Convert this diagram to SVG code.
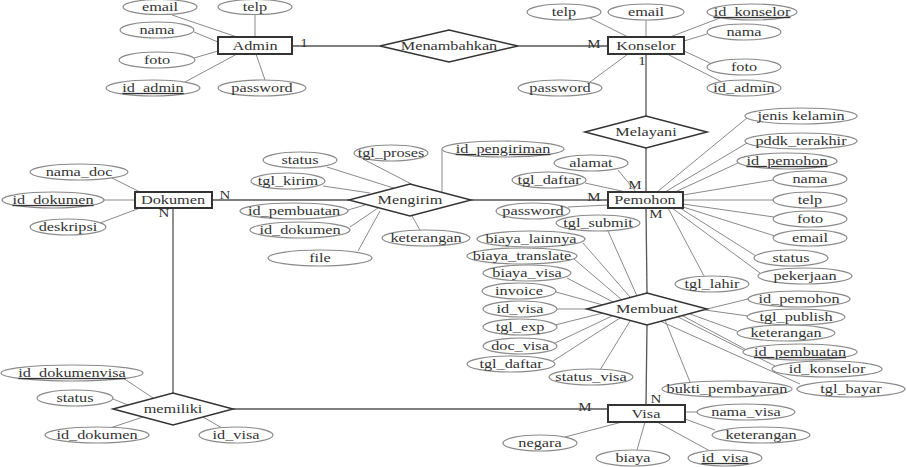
<svg xmlns="http://www.w3.org/2000/svg" width="907" height="467" viewBox="0 0 907 467">
<style>
.e{fill:#fff;stroke:#8a8a8a;stroke-width:1.2}
.t{font-family:"Liberation Serif","Times New Roman",serif;font-size:13px;fill:#333;text-anchor:middle}
.c{font-size:12px}
.k{text-decoration:underline}
.a{stroke:#8a8a8a;stroke-width:1;fill:none}
.r{stroke:#555;stroke-width:1.3;fill:none}
.ent{fill:#fff;stroke:#333;stroke-width:2}
.rel{fill:#fff;stroke:#333;stroke-width:1.5}
</style>
<rect width="907" height="467" fill="#fff"/>
<g id="connectors">
<line class="r" x1="292" y1="46" x2="380" y2="46"/>
<line class="r" x1="518" y1="46" x2="608" y2="46"/>
<line class="r" x1="646" y1="54" x2="646" y2="116"/>
<line class="r" x1="646" y1="148" x2="646" y2="192"/>
<line class="r" x1="646" y1="208" x2="647" y2="293"/>
<line class="r" x1="647" y1="325" x2="646" y2="405"/>
<line class="r" x1="471" y1="200" x2="608" y2="200"/>
<line class="r" x1="212" y1="200" x2="349" y2="200"/>
<line class="r" x1="173" y1="208" x2="173" y2="393"/>
<line class="r" x1="233" y1="409" x2="608" y2="409"/>
<g id="attr-lines">
<line class="a" x1="172" y1="15" x2="237" y2="37"/>
<line class="a" x1="255" y1="15" x2="255" y2="37"/>
<line class="a" x1="194" y1="32" x2="218" y2="42"/>
<line class="a" x1="194" y1="58" x2="218" y2="51"/>
<line class="a" x1="185" y1="82" x2="237" y2="54"/>
<line class="a" x1="265" y1="80" x2="256" y2="54"/>
<line class="a" x1="590" y1="18" x2="628" y2="37"/>
<line class="a" x1="646" y1="20" x2="646" y2="37"/>
<line class="a" x1="720" y1="18" x2="670" y2="37"/>
<line class="a" x1="707" y1="34" x2="684" y2="41"/>
<line class="a" x1="710" y1="63" x2="684" y2="51"/>
<line class="a" x1="722" y1="82" x2="667" y2="54"/>
<line class="a" x1="590" y1="82" x2="628" y2="54"/>
<line class="a" x1="747" y1="118" x2="657" y2="192"/>
<line class="a" x1="747" y1="143" x2="665" y2="192"/>
<line class="a" x1="738" y1="163" x2="675" y2="192"/>
<line class="a" x1="773" y1="180" x2="683" y2="195"/>
<line class="a" x1="773" y1="200" x2="683" y2="200"/>
<line class="a" x1="774" y1="217" x2="683" y2="204"/>
<line class="a" x1="775" y1="236" x2="683" y2="207"/>
<line class="a" x1="756" y1="256" x2="680" y2="208"/>
<line class="a" x1="760" y1="273" x2="672" y2="208"/>
<line class="a" x1="704" y1="276" x2="668" y2="208"/>
<line class="a" x1="618" y1="170" x2="636" y2="192"/>
<line class="a" x1="585" y1="183" x2="626" y2="192"/>
<line class="a" x1="568" y1="207" x2="608" y2="205"/>
<line class="a" x1="327" y1="167" x2="403" y2="191"/>
<line class="a" x1="363" y1="159" x2="423" y2="190"/>
<line class="a" x1="323" y1="186" x2="370" y2="193"/>
<line class="a" x1="348" y1="210" x2="365" y2="205"/>
<line class="a" x1="350" y1="227" x2="378" y2="208"/>
<line class="a" x1="358" y1="251" x2="380" y2="211"/>
<line class="a" x1="420" y1="230" x2="412" y2="216"/>
<line class="a" x1="442" y1="149" x2="442" y2="192"/>
<line class="a" x1="112" y1="178" x2="140" y2="192"/>
<line class="a" x1="104" y1="200" x2="135" y2="200"/>
<line class="a" x1="100" y1="223" x2="140" y2="208"/>
<line class="a" x1="123" y1="378" x2="153" y2="398"/>
<line class="a" x1="113" y1="399" x2="128" y2="405"/>
<line class="a" x1="110" y1="428" x2="143" y2="417"/>
<line class="a" x1="222" y1="428" x2="203" y2="417"/>
<line class="a" x1="697" y1="412" x2="685" y2="412"/>
<line class="a" x1="715" y1="430" x2="685" y2="419"/>
<line class="a" x1="565" y1="437" x2="622" y2="422"/>
<line class="a" x1="637" y1="450" x2="645" y2="422"/>
<line class="a" x1="710" y1="451" x2="657" y2="422"/>
<line class="a" x1="608" y1="231" x2="637" y2="296"/>
<line class="a" x1="583" y1="243" x2="630" y2="297"/>
<line class="a" x1="574" y1="259" x2="622" y2="300"/>
<line class="a" x1="567" y1="278" x2="613" y2="302"/>
<line class="a" x1="556" y1="292" x2="603" y2="305"/>
<line class="a" x1="557" y1="309" x2="587" y2="309"/>
<line class="a" x1="555" y1="325" x2="603" y2="313"/>
<line class="a" x1="555" y1="343" x2="612" y2="316"/>
<line class="a" x1="553" y1="361" x2="620" y2="318"/>
<line class="a" x1="600" y1="370" x2="630" y2="321"/>
<line class="a" x1="748" y1="299" x2="707" y2="309"/>
<line class="a" x1="748" y1="316" x2="705" y2="310"/>
<line class="a" x1="737" y1="331" x2="690" y2="314"/>
<line class="a" x1="745" y1="349" x2="683" y2="316"/>
<line class="a" x1="775" y1="366" x2="678" y2="317"/>
<line class="a" x1="690" y1="382" x2="665" y2="320"/>
<line class="a" x1="800" y1="384" x2="660" y2="321"/>
</g>
<g id="cardinalities">
<text class="t c" transform="translate(304,47) scale(1.25,1)">1</text>
<text class="t c" transform="translate(594,48) scale(1.25,1)">M</text>
<text class="t c" transform="translate(642,65) scale(1.25,1)">1</text>
<text class="t c" transform="translate(635,189) scale(1.25,1)">M</text>
<text class="t c" transform="translate(594,201) scale(1.25,1)">M</text>
<text class="t c" transform="translate(656,218) scale(1.25,1)">M</text>
<text class="t c" transform="translate(225,199) scale(1.25,1)">N</text>
<text class="t c" transform="translate(164,217) scale(1.25,1)">N</text>
<text class="t c" transform="translate(585,411) scale(1.25,1)">M</text>
<text class="t c" transform="translate(656,403) scale(1.25,1)">N</text>
</g>
</g>
<!-- Entities -->
<g id="Admin"><rect class="ent" x="218" y="37" width="74" height="17"/><text class="t" transform="translate(255,50) scale(1.25,1)">Admin</text></g>
<g id="Konselor"><rect class="ent" x="608" y="37" width="76" height="17"/><text class="t" transform="translate(646,50) scale(1.25,1)">Konselor</text></g>
<g id="Pemohon"><rect class="ent" x="608" y="192" width="75" height="16"/><text class="t" transform="translate(645,204) scale(1.25,1)">Pemohon</text></g>
<g id="Dokumen"><rect class="ent" x="135" y="192" width="77" height="16"/><text class="t" transform="translate(173,204) scale(1.25,1)">Dokumen</text></g>
<g id="Visa"><rect class="ent" x="608" y="405" width="77" height="17"/><text class="t" transform="translate(646,418) scale(1.25,1)">Visa</text></g>
<!-- Relationships -->
<g id="Menambahkan"><polygon class="rel" points="380,46 449,30 518,46 449,62"/><text class="t" transform="translate(449,50) scale(1.25,1)">Menambahkan</text></g>
<g id="Melayani"><polygon class="rel" points="585,132 646,116 707,132 646,148"/><text class="t" transform="translate(646,136) scale(1.25,1)">Melayani</text></g>
<g id="Mengirim"><polygon class="rel" points="349,200 410,184 471,200 410,216"/><text class="t" transform="translate(410,204) scale(1.25,1)">Mengirim</text></g>
<g id="Membuat"><polygon class="rel" points="587,309 647,293 707,309 647,325"/><text class="t" transform="translate(647,313) scale(1.25,1)">Membuat</text></g>
<g id="memiliki"><polygon class="rel" points="113,409 173,393 233,409 173,425"/><text class="t" transform="translate(173,413) scale(1.25,1)">memiliki</text></g>
<!-- Admin attributes -->
<g id="admin_email"><ellipse class="e" cx="160" cy="7" rx="37" ry="7.5"/><text class="t" transform="translate(160,11) scale(1.25,1)">email</text></g>
<g id="admin_telp"><ellipse class="e" cx="255" cy="7" rx="37" ry="7.5"/><text class="t" transform="translate(255,11) scale(1.25,1)">telp</text></g>
<g id="admin_nama"><ellipse class="e" cx="157" cy="30" rx="37" ry="8"/><text class="t" transform="translate(157,34) scale(1.25,1)">nama</text></g>
<g id="admin_foto"><ellipse class="e" cx="157" cy="60" rx="38" ry="8"/><text class="t" transform="translate(157,64) scale(1.25,1)">foto</text></g>
<g id="admin_id"><ellipse class="e" cx="153" cy="88" rx="47" ry="8"/><text class="t k" transform="translate(153,92) scale(1.25,1)">id_admin</text></g>
<g id="admin_password"><ellipse class="e" cx="262" cy="88" rx="44" ry="8"/><text class="t" transform="translate(262,92) scale(1.25,1)">password</text></g>
<!-- Konselor attributes -->
<g id="konselor_telp"><ellipse class="e" cx="564" cy="12" rx="37" ry="8"/><text class="t" transform="translate(564,16) scale(1.25,1)">telp</text></g>
<g id="konselor_email"><ellipse class="e" cx="646" cy="12" rx="38" ry="8"/><text class="t" transform="translate(646,16) scale(1.25,1)">email</text></g>
<g id="konselor_id"><ellipse class="e" cx="752" cy="12" rx="45" ry="8"/><text class="t k" transform="translate(752,16) scale(1.25,1)">id_konselor</text></g>
<g id="konselor_nama"><ellipse class="e" cx="744" cy="32" rx="37" ry="8"/><text class="t" transform="translate(744,36) scale(1.25,1)">nama</text></g>
<g id="konselor_foto"><ellipse class="e" cx="744" cy="67" rx="37" ry="8"/><text class="t" transform="translate(744,71) scale(1.25,1)">foto</text></g>
<g id="konselor_idadmin"><ellipse class="e" cx="744" cy="88" rx="37" ry="8"/><text class="t" transform="translate(744,92) scale(1.25,1)">id_admin</text></g>
<g id="konselor_password"><ellipse class="e" cx="560" cy="88" rx="42" ry="8"/><text class="t" transform="translate(560,92) scale(1.25,1)">password</text></g>
<!-- Pemohon attributes -->
<g id="pemohon_jk"><ellipse class="e" cx="801" cy="116" rx="56" ry="8"/><text class="t" transform="translate(801,120) scale(1.25,1)">jenis kelamin</text></g>
<g id="pemohon_pddk"><ellipse class="e" cx="801" cy="141" rx="56" ry="8"/><text class="t" transform="translate(801,145) scale(1.25,1)">pddk_terakhir</text></g>
<g id="pemohon_id"><ellipse class="e" cx="787" cy="161" rx="50" ry="8"/><text class="t k" transform="translate(787,165) scale(1.25,1)">id_pemohon</text></g>
<g id="pemohon_nama"><ellipse class="e" cx="810" cy="179" rx="37" ry="8"/><text class="t" transform="translate(810,183) scale(1.25,1)">nama</text></g>
<g id="pemohon_telp"><ellipse class="e" cx="810" cy="200" rx="37" ry="8"/><text class="t" transform="translate(810,204) scale(1.25,1)">telp</text></g>
<g id="pemohon_foto"><ellipse class="e" cx="810" cy="219" rx="37" ry="8"/><text class="t" transform="translate(810,223) scale(1.25,1)">foto</text></g>
<g id="pemohon_email"><ellipse class="e" cx="810" cy="238" rx="37" ry="8"/><text class="t" transform="translate(810,242) scale(1.25,1)">email</text></g>
<g id="pemohon_status"><ellipse class="e" cx="791" cy="258" rx="37" ry="8"/><text class="t" transform="translate(791,262) scale(1.25,1)">status</text></g>
<g id="pemohon_pekerjaan"><ellipse class="e" cx="805" cy="276" rx="47" ry="8"/><text class="t" transform="translate(805,280) scale(1.25,1)">pekerjaan</text></g>
<g id="pemohon_lahir"><ellipse class="e" cx="712" cy="284" rx="37" ry="8"/><text class="t" transform="translate(712,288) scale(1.25,1)">tgl_lahir</text></g>
<g id="pemohon_alamat"><ellipse class="e" cx="591" cy="163" rx="37" ry="8"/><text class="t" transform="translate(591,167) scale(1.25,1)">alamat</text></g>
<g id="pemohon_daftar"><ellipse class="e" cx="549" cy="180" rx="37" ry="8"/><text class="t" transform="translate(549,184) scale(1.25,1)">tgl_daftar</text></g>
<g id="pemohon_password"><ellipse class="e" cx="533" cy="211" rx="37" ry="8"/><text class="t" transform="translate(533,215) scale(1.25,1)">password</text></g>
<!-- Mengirim attributes -->
<g id="mengirim_id"><ellipse class="e" cx="503" cy="149" rx="61" ry="8"/><text class="t k" transform="translate(503,153) scale(1.25,1)">id_pengiriman</text></g>
<g id="mengirim_status"><ellipse class="e" cx="300" cy="160" rx="37" ry="8"/><text class="t" transform="translate(300,164) scale(1.25,1)">status</text></g>
<g id="mengirim_proses"><ellipse class="e" cx="391" cy="153" rx="37" ry="8"/><text class="t" transform="translate(391,157) scale(1.25,1)">tgl_proses</text></g>
<g id="mengirim_kirim"><ellipse class="e" cx="288" cy="181" rx="37" ry="8"/><text class="t" transform="translate(288,185) scale(1.25,1)">tgl_kirim</text></g>
<g id="mengirim_pembuatan"><ellipse class="e" cx="294" cy="211" rx="54" ry="8"/><text class="t" transform="translate(294,215) scale(1.25,1)">id_pembuatan</text></g>
<g id="mengirim_dokumen"><ellipse class="e" cx="300" cy="230" rx="50" ry="8"/><text class="t" transform="translate(300,234) scale(1.25,1)">id_dokumen</text></g>
<g id="mengirim_file"><ellipse class="e" cx="320" cy="258" rx="52" ry="8"/><text class="t" transform="translate(320,262) scale(1.25,1)">file</text></g>
<g id="mengirim_keterangan"><ellipse class="e" cx="426" cy="238" rx="44" ry="8"/><text class="t" transform="translate(426,242) scale(1.25,1)">keterangan</text></g>
<!-- Dokumen attributes -->
<g id="dokumen_nama"><ellipse class="e" cx="79" cy="172" rx="49" ry="8"/><text class="t" transform="translate(79,176) scale(1.25,1)">nama_doc</text></g>
<g id="dokumen_id"><ellipse class="e" cx="53" cy="200" rx="51" ry="8"/><text class="t k" transform="translate(53,204) scale(1.25,1)">id_dokumen</text></g>
<g id="dokumen_deskripsi"><ellipse class="e" cx="68" cy="227" rx="38" ry="8"/><text class="t" transform="translate(68,231) scale(1.25,1)">deskripsi</text></g>
<!-- memiliki attributes -->
<g id="memiliki_id"><ellipse class="e" cx="72" cy="373" rx="71" ry="8"/><text class="t k" transform="translate(72,377) scale(1.25,1)">id_dokumenvisa</text></g>
<g id="memiliki_status"><ellipse class="e" cx="75" cy="398" rx="38" ry="8"/><text class="t" transform="translate(75,402) scale(1.25,1)">status</text></g>
<g id="memiliki_dokumen"><ellipse class="e" cx="97" cy="435" rx="52" ry="8"/><text class="t" transform="translate(97,439) scale(1.25,1)">id_dokumen</text></g>
<g id="memiliki_visa"><ellipse class="e" cx="236" cy="435" rx="37" ry="8"/><text class="t" transform="translate(236,439) scale(1.25,1)">id_visa</text></g>
<!-- Visa attributes -->
<g id="visa_nama"><ellipse class="e" cx="746" cy="412" rx="49" ry="8"/><text class="t" transform="translate(746,416) scale(1.25,1)">nama_visa</text></g>
<g id="visa_keterangan"><ellipse class="e" cx="761" cy="435" rx="49" ry="8"/><text class="t" transform="translate(761,439) scale(1.25,1)">keterangan</text></g>
<g id="visa_negara"><ellipse class="e" cx="540" cy="443" rx="37" ry="8"/><text class="t" transform="translate(540,447) scale(1.25,1)">negara</text></g>
<g id="visa_biaya"><ellipse class="e" cx="633" cy="458" rx="37" ry="8"/><text class="t" transform="translate(633,462) scale(1.25,1)">biaya</text></g>
<g id="visa_id"><ellipse class="e" cx="725" cy="458" rx="37" ry="8"/><text class="t k" transform="translate(725,462) scale(1.25,1)">id_visa</text></g>
<!-- Membuat attributes -->
<g id="membuat_submit"><ellipse class="e" cx="598" cy="223" rx="42" ry="8"/><text class="t" transform="translate(598,227) scale(1.25,1)">tgl_submit</text></g>
<g id="membuat_lainnya"><ellipse class="e" cx="531" cy="239" rx="54" ry="8"/><text class="t" transform="translate(531,243) scale(1.25,1)">biaya_lainnya</text></g>
<g id="membuat_translate"><ellipse class="e" cx="522" cy="256" rx="55" ry="8"/><text class="t" transform="translate(522,260) scale(1.25,1)">biaya_translate</text></g>
<g id="membuat_biayavisa"><ellipse class="e" cx="527" cy="273" rx="44" ry="8"/><text class="t" transform="translate(527,277) scale(1.25,1)">biaya_visa</text></g>
<g id="membuat_invoice"><ellipse class="e" cx="519" cy="291" rx="37" ry="8"/><text class="t" transform="translate(519,295) scale(1.25,1)">invoice</text></g>
<g id="membuat_idvisa"><ellipse class="e" cx="520" cy="309" rx="37" ry="8"/><text class="t" transform="translate(520,313) scale(1.25,1)">id_visa</text></g>
<g id="membuat_exp"><ellipse class="e" cx="520" cy="327" rx="37" ry="8"/><text class="t" transform="translate(520,331) scale(1.25,1)">tgl_exp</text></g>
<g id="membuat_docvisa"><ellipse class="e" cx="520" cy="346" rx="37" ry="8"/><text class="t" transform="translate(520,350) scale(1.25,1)">doc_visa</text></g>
<g id="membuat_daftar"><ellipse class="e" cx="511" cy="364" rx="44" ry="8"/><text class="t" transform="translate(511,368) scale(1.25,1)">tgl_daftar</text></g>
<g id="membuat_statusvisa"><ellipse class="e" cx="591" cy="377" rx="42" ry="8"/><text class="t" transform="translate(591,381) scale(1.25,1)">status_visa</text></g>
<g id="membuat_pemohon"><ellipse class="e" cx="799" cy="299" rx="51" ry="8"/><text class="t" transform="translate(799,303) scale(1.25,1)">id_pemohon</text></g>
<g id="membuat_publish"><ellipse class="e" cx="796" cy="317" rx="49" ry="8"/><text class="t" transform="translate(796,321) scale(1.25,1)">tgl_publish</text></g>
<g id="membuat_keterangan"><ellipse class="e" cx="786" cy="333" rx="49" ry="8"/><text class="t" transform="translate(786,337) scale(1.25,1)">keterangan</text></g>
<g id="membuat_id"><ellipse class="e" cx="800" cy="352" rx="57" ry="8"/><text class="t k" transform="translate(800,356) scale(1.25,1)">id_pembuatan</text></g>
<g id="membuat_konselor"><ellipse class="e" cx="827" cy="369" rx="55" ry="8"/><text class="t" transform="translate(827,373) scale(1.25,1)">id_konselor</text></g>
<g id="membuat_bukti"><ellipse class="e" cx="727" cy="389" rx="65" ry="8"/><text class="t" transform="translate(727,393) scale(1.25,1)">bukti_pembayaran</text></g>
<g id="membuat_bayar"><ellipse class="e" cx="851" cy="389" rx="54" ry="8"/><text class="t" transform="translate(851,393) scale(1.25,1)">tgl_bayar</text></g>
</svg>
